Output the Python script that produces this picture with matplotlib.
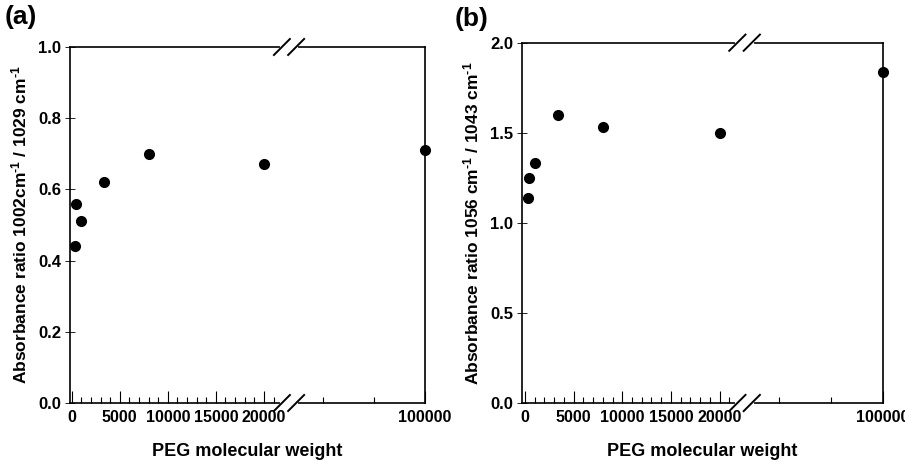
import numpy as np
import matplotlib
matplotlib.use('Agg')
import matplotlib.pyplot as plt
from matplotlib.ticker import FixedLocator, FixedFormatter, NullFormatter

plt.rcParams['font.family'] = ['Liberation Sans', 'DejaVu Sans']
plt.rcParams['font.weight'] = 'bold'
plt.rcParams['mathtext.fontset'] = 'custom'
plt.rcParams['mathtext.rm'] = 'Liberation Sans:bold'
plt.rcParams['mathtext.bf'] = 'Liberation Sans:bold'
plt.rcParams['mathtext.default'] = 'bf'

# 数据
peg_mw = [300, 400, 1000, 3350, 8000, 20000, 100000]
ratio_a = [0.44, 0.56, 0.51, 0.62, 0.70, 0.67, 0.71]
ratio_b = [1.14, 1.25, 1.33, 1.60, 1.53, 1.50, 1.84]

x_major = [0, 5000, 10000, 15000, 20000, 100000]
x_major_labels = ['0', '5000', '10000', '15000', '20000', '100000']
x_minor = [v for v in range(1000, 22000, 1000) if v % 5000 != 0] + [60000, 80000]

# 断轴：20000以后压缩
seg_x = [-5000, 22000, 60000, 120000]
seg_u = [-5000, 22000, 26100, 26100 + 60000 * 0.2663]


def fwd(x):
    return np.interp(x, seg_x, seg_u)


def inv(u):
    return np.interp(u, seg_u, seg_x)


def draw_break(ax, y):
    # 先用白线盖住轴线，再画两道斜杠
    ax.plot([0.597, 0.637], [y, y], transform=ax.transAxes, color='white',
            lw=3, clip_on=False, zorder=5)
    for c in (0.597, 0.637):
        ax.plot([c - 0.0225, c + 0.0225], [y - 0.0225, y + 0.0225],
                transform=ax.transAxes, color='black', lw=1.4,
                clip_on=False, zorder=6)


def setup(ax, ydata, ylim, yticks, ylabel, xleft):
    ax.plot(peg_mw, ydata, 'o', color='black', ms=7, clip_on=False, zorder=4)
    ax.set_xscale('function', functions=(fwd, inv))
    ax.set_xlim(xleft, 100000)
    ax.set_ylim(*ylim)
    ax.xaxis.set_major_locator(FixedLocator(x_major))
    ax.xaxis.set_major_formatter(FixedFormatter(x_major_labels))
    ax.xaxis.set_minor_locator(FixedLocator(x_minor))
    ax.xaxis.set_minor_formatter(NullFormatter())
    ax.set_yticks(yticks)
    ax.tick_params(axis='x', which='major', direction='in', length=9,
                   width=0.8, labelsize=11.5, pad=5)
    ax.tick_params(axis='x', which='minor', direction='in', length=4.5,
                   width=0.8)
    ax.tick_params(axis='y', direction='inout', length=7, width=0.6,
                   labelsize=12, pad=3)
    for sp in ax.spines.values():
        sp.set_linewidth(1.2)
    ax.set_xlabel('PEG molecular weight', fontsize=13, fontweight='bold',
                  labelpad=13)
    ax.set_ylabel(ylabel, fontsize=12.5, fontweight='bold', labelpad=6)
    draw_break(ax, 0)
    draw_break(ax, 1)


fig = plt.figure(figsize=(9.05, 4.62), dpi=100)
ax1 = fig.add_axes([0.0773, 0.1277, 0.3923, 0.7706])
ax2 = fig.add_axes([0.5768, 0.1277, 0.3986, 0.7799])

setup(ax1, ratio_a, (0, 1.0), [0.0, 0.2, 0.4, 0.6, 0.8, 1.0],
      r'Absorbance ratio 1002cm$^{\text{-1}}$ / 1029 cm$^{\text{-1}}$', -180)
setup(ax2, ratio_b, (0, 2.0), [0.0, 0.5, 1.0, 1.5, 2.0],
      r'Absorbance ratio 1056 cm$^{\text{-1}}$ / 1043 cm$^{\text{-1}}$', -300)

fig.text(0.005, 0.99, '(a)', fontsize=19, fontweight='bold', va='top')
fig.text(0.502, 0.985, '(b)', fontsize=19, fontweight='bold', va='top')

fig.savefig('out.png', dpi=100)
